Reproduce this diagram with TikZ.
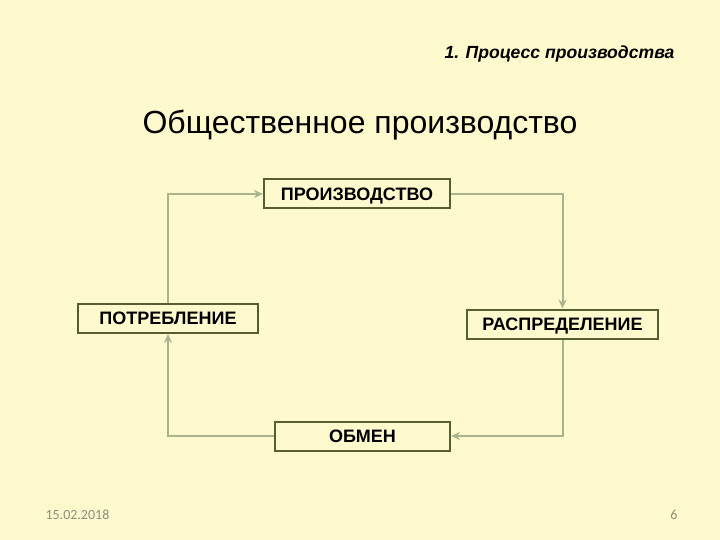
\documentclass[tikz,border=0pt]{standalone}
\usepackage{fontspec}
\setmainfont{Liberation Sans}
\newfontfamily\footfont{Carlito}
\usetikzlibrary{arrows.meta}
\definecolor{bg}{RGB}{255,250,205}
\definecolor{boxline}{RGB}{88,94,52}
\definecolor{conn}{RGB}{170,180,140}
\definecolor{foot}{RGB}{140,140,120}
\tikzset{
  box/.style={draw=boxline, line width=2pt, fill=bg, minimum height=29pt, inner sep=0pt, text height=12.5pt, text depth=0pt, font=\fontsize{18}{20}\selectfont\bfseries},
  link/.style={draw=conn, line width=2pt, -{Stealth[length=9pt,width=8pt]}},
}
\begin{document}
\begin{tikzpicture}[x=1pt,y=-1pt]
\fill[bg] (0,0) rectangle (720,540);
\useasboundingbox (0,0) rectangle (720,540);
\node[anchor=east, font=\fontsize{17.6}{20}\selectfont\bfseries\itshape] (sub) at (678,54) {1. Процесс производства};
\node[font=\fontsize{32}{36}\selectfont] (title) at (360,125) {Общественное производство};
\node[box, minimum width=186pt] (prod) at (357,194) {ПРОИЗВОДСТВО};
\node[box, minimum width=180pt] (potr) at (168,318.5) {ПОТРЕБЛЕНИЕ};
\node[box, minimum width=191pt] (rasp) at (562.5,324) {РАСПРЕДЕЛЕНИЕ};
\node[box, minimum width=175pt] (obm) at (362.5,436) {ОБМЕН};
\draw[link] (potr.north) |- (prod.west);
\draw[link] (prod.east) -| (rasp.north);
\draw[link] (rasp.south) |- (obm.east);
\draw[link] (obm.west) -| (potr.south);
\node[anchor=west, text=foot, font=\footfont\fontsize{14}{16}\selectfont] (date) at (42,515) {15.02.2018};
\node[anchor=east, text=foot, font=\footfont\fontsize{14}{16}\selectfont] (page) at (681,515) {6};
\end{tikzpicture}
\end{document}
